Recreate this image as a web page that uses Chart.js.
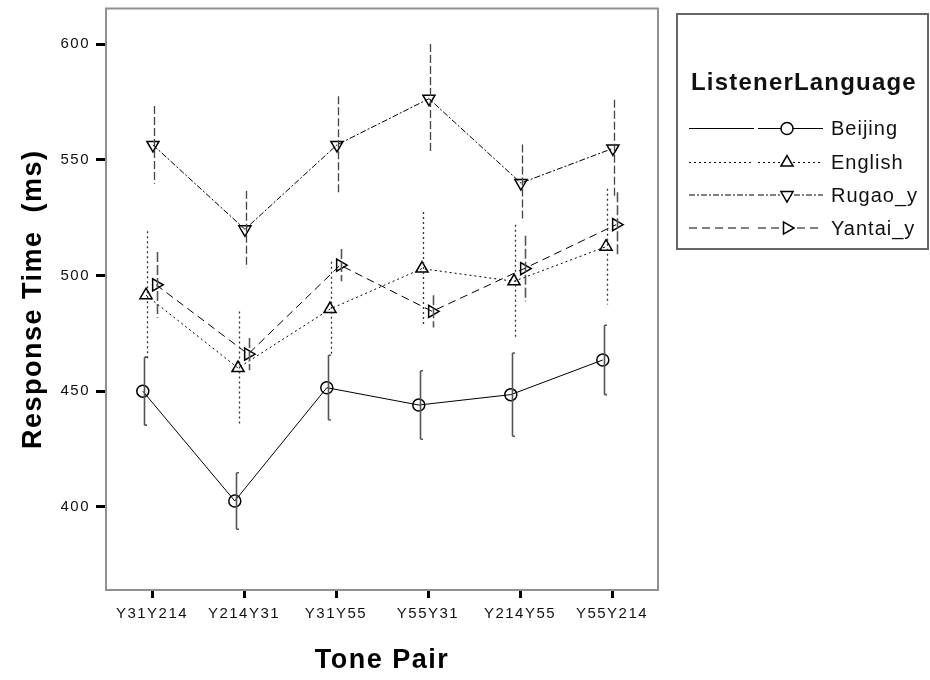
<!DOCTYPE html>
<html>
<head>
<meta charset="utf-8">
<script src="https://cdn.jsdelivr.net/npm/chart.js@4.4.1/dist/chart.umd.min.js"></script>
<style>
  html, body { margin: 0; padding: 0; background: #fff; }
  #wrap { width: 930px; height: 680px; }
</style>
</head>
<body>
<div id="wrap"><canvas id="c" width="930" height="680"></canvas></div>
<script>
// Tone pairs on the x axis
const tonePairs = ['Y31Y214', 'Y214Y31', 'Y31Y55', 'Y55Y31', 'Y214Y55', 'Y55Y214'];

// Mean response times (ms) per listener group, with error-bar half widths
const beijing    = [450, 402.5, 451.5, 444, 448.5, 463.5];
const beijingErr = [14.7, 12.2, 14, 14.8, 18, 15];
const english    = [491.5, 460, 485.5, 503, 497.5, 512.5];
const englishErr = [27.7, 24.5, 20.5, 24.5, 24.5, 25];
const rugao      = [556.5, 520, 556.5, 576.5, 540, 555];
const rugaoErr   = [16.8, 16.7, 21, 23.7, 16.7, 21];
const yantai     = [496, 466, 504.5, 484.5, 503, 522];
const yantaiErr  = [14.2, 7, 7, 7, 14.2, 14];

const yTicks = [400, 450, 500, 550, 600];
const legendTitle = 'ListenerLanguage';

const FONT = '"Liberation Sans", Arial, sans-serif';

// per-series look: small sideways shift so the groups don't overlap
const series = [
  { label: 'Beijing',  values: beijing, errs: beijingErr, shift: -0.10, dash: [],          style: 'circle',   rot: 0,   r: 6,
    barDash: [],      barColor: '#555', barWidth: 1.6, cap: true },
  { label: 'English',  values: english, errs: englishErr, shift: -0.065, dash: [2, 3],     style: 'triangle', rot: 0,   r: 7,
    barDash: [2, 3],  barColor: '#333', barWidth: 1.3, cap: false },
  { label: 'Rugao_y',  values: rugao,   errs: rugaoErr,   shift: 0.01,  dash: [6, 2, 2, 2], style: 'triangle', rot: 180, r: 7,
    barDash: [8, 3],  barColor: '#444', barWidth: 1.3, cap: false },
  { label: 'Yantai_y', values: yantai,  errs: yantaiErr,  shift: 0.045, dash: [8, 5],     style: 'triangle', rot: 90,  r: 7,
    barDash: [10, 3], barColor: '#555', barWidth: 1.6, cap: false }
];

const datasets = series.map(s => ({
  label: s.label,
  data: s.values.map((v, i) => ({ x: i + s.shift, y: v })),
  borderColor: '#000',
  borderWidth: 1,
  borderDash: s.dash,
  pointStyle: s.style,
  rotation: s.rot,
  pointRadius: s.r,
  pointHoverRadius: s.r,
  pointBorderWidth: 1.5,
  pointBorderColor: '#000',
  pointBackgroundColor: 'rgba(0,0,0,0)',
  fill: false,
  tension: 0
}));

// error bars drawn through the chart's own scales
const errorBars = {
  id: 'errorBars',
  afterDatasetsDraw(chart) {
    const { ctx, scales: { x, y } } = chart;
    ctx.save();
    series.forEach(s => {
      ctx.strokeStyle = s.barColor;
      ctx.lineWidth = s.barWidth;
      ctx.setLineDash(s.barDash);
      s.values.forEach((v, i) => {
        const px = Math.round(x.getPixelForValue(i + s.shift)) + 1.5;
        const top = y.getPixelForValue(v + s.errs[i]);
        const bot = y.getPixelForValue(v - s.errs[i]);
        ctx.beginPath();
        ctx.moveTo(px, top);
        ctx.lineTo(px, bot);
        if (s.cap) {
          ctx.moveTo(px, top); ctx.lineTo(px + 2.5, top);
          ctx.moveTo(px, bot); ctx.lineTo(px + 2.5, bot);
        }
        ctx.stroke();
      });
    });
    ctx.restore();
  }
};

// grey frame around the plotting area
const frame = {
  id: 'frame',
  beforeDatasetsDraw(chart) {
    const { ctx, chartArea: a } = chart;
    ctx.save();
    ctx.strokeStyle = '#909090';
    ctx.lineWidth = 2;
    ctx.strokeRect(a.left, a.top, a.right - a.left, a.bottom - a.top);
    ctx.restore();
  }
};

// wider letter spacing for all chart text
const spacing = {
  id: 'spacing',
  beforeDraw(chart) { chart.ctx.letterSpacing = '1.5px'; },
  afterDraw(chart) { chart.ctx.letterSpacing = '0px'; }
};

// boxed legend with line samples and markers
const boxLegend = {
  id: 'boxLegend',
  afterDraw(chart) {
    const ctx = chart.ctx;
    ctx.save();
    ctx.letterSpacing = '0px';
    ctx.strokeStyle = '#666';
    ctx.lineWidth = 2;
    ctx.strokeRect(677, 14, 251, 235);
    ctx.fillStyle = '#111';
    ctx.textBaseline = 'middle';
    ctx.textAlign = 'left';
    ctx.font = 'bold 24px ' + FONT;
    ctx.letterSpacing = '1.2px';
    ctx.fillText(legendTitle, 691, 83);
    const rowY = [128.5, 162.5, 195, 228];
    series.forEach((s, k) => {
      const yy = rowY[k];
      ctx.strokeStyle = '#000';
      ctx.lineWidth = 1;
      ctx.setLineDash(s.dash);
      ctx.beginPath();
      ctx.moveTo(689, yy); ctx.lineTo(754, yy);
      ctx.moveTo(758, yy); ctx.lineTo(823, yy);
      ctx.stroke();
      ctx.setLineDash([]);
      ctx.lineWidth = 1.5;
      ctx.fillStyle = '#fff';
      Chart.helpers.drawPoint(ctx, { pointStyle: s.style, rotation: s.rot, radius: s.r, borderWidth: 1.5 }, 787, yy);
      ctx.fillStyle = '#111';
      ctx.font = '20px ' + FONT;
      ctx.letterSpacing = '1px';
      ctx.fillText(s.label, 831, yy + 1);
    });
    ctx.restore();
  }
};

new Chart(document.getElementById('c'), {
  type: 'line',
  data: { datasets },
  options: {
    responsive: false,
    animation: false,
    events: [],
    layout: { padding: { left: 0, right: 272, top: 2, bottom: 0 } },
    plugins: { legend: { display: false }, tooltip: { enabled: false } },
    scales: {
      x: {
        type: 'linear',
        min: -0.5,
        max: 5.5,
        afterBuildTicks: sc => { sc.ticks = tonePairs.map((_, i) => ({ value: i })); },
        afterFit: sc => { sc.height = 90; sc.paddingLeft = 0; sc.paddingRight = 0; },
        border: { display: false },
        grid: { drawOnChartArea: false, drawTicks: true, tickLength: 8, tickWidth: 3, tickColor: '#000' },
        ticks: {
          callback: v => tonePairs[v],
          color: '#111',
          font: { family: FONT, size: 15 },
          padding: 7,
          maxRotation: 0,
          autoSkip: false
        },
        title: {
          display: true,
          text: 'Tone Pair',
          color: '#000',
          font: { family: FONT, size: 27, weight: 'bold' },
          padding: { top: 0, bottom: 3 }
        }
      },
      y: {
        min: 364,
        max: 615.5,
        afterBuildTicks: sc => { sc.ticks = yTicks.map(v => ({ value: v })); },
        afterFit: sc => { sc.width = 106; sc.paddingTop = 0; sc.paddingBottom = 0; },
        border: { display: false },
        grid: { drawOnChartArea: false, drawTicks: true, tickLength: 10, tickWidth: 3, tickColor: '#000' },
        ticks: {
          color: '#111',
          font: { family: FONT, size: 15 },
          padding: 6
        },
        title: {
          display: true,
          text: 'Response Time  (ms)',
          color: '#000',
          font: { family: FONT, size: 27, weight: 'bold' },
          padding: { top: 17, bottom: 0 }
        }
      }
    }
  },
  plugins: [spacing, frame, errorBars, boxLegend]
});
</script>
</body>
</html>
